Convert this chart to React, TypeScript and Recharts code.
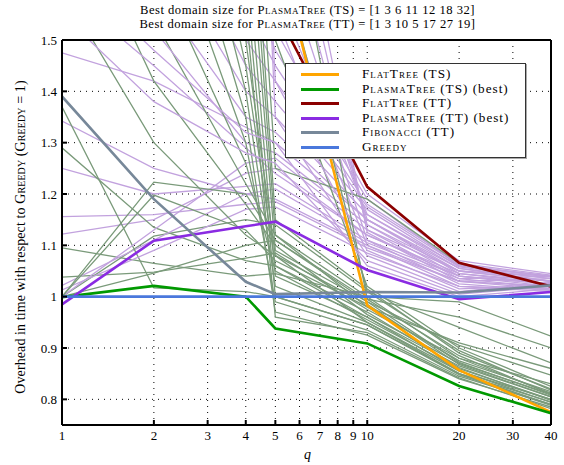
import React from 'react';
import {
  LineChart, Line, XAxis, YAxis, CartesianGrid,
} from 'recharts';

// q values where every run was measured
const Q = [1, 2, 4, 5, 10, 20, 40];
const X_TICKS = [1, 2, 3, 4, 5, 6, 7, 8, 9, 10, 20, 30, 40];
const Y_TICKS = [0.8, 0.9, 1.0, 1.1, 1.2, 1.3, 1.4, 1.5];

// highlighted series (values above 1.5 run off the top of the plot)
const flatTS = [3.4, 2.7, 1.95, 1.7, 0.983, 0.857, 0.775];
const plasmaTSBest = [0.999, 1.021, 1.0, 0.938, 0.909, 0.826, 0.773];
const flatTT = [3.0, 2.3, 1.7, 1.56, 1.214, 1.066, 1.02];
const plasmaTTBest = [0.985, 1.109, 1.137, 1.146, 1.052, 0.995, 1.009];
const fibTT = [1.39, 1.19, 1.029, 1.005, 1.009, 1.008, 1.022];
const greedy = [1, 1, 1, 1, 1, 1, 1];

// PlasmaTree (TS), one run per domain size
const plasmaTSRuns = [
  [1.000, 1.046, 1.100, 1.110, 0.990, 0.905, 0.847],
  [1.038, 1.048, 1.075, 1.085, 0.975, 0.880, 0.830],
  [1.095, 1.065, 1.040, 1.045, 1.000, 0.990, 0.923],
  [1.000, 1.118, 1.150, 1.140, 1.010, 0.940, 0.871],
  [1.290, 1.135, 1.070, 1.060, 0.960, 0.865, 0.805],
  [1.370, 1.017, 1.010, 1.000, 0.945, 0.850, 0.795],
  [1.600, 1.300, 1.120, 1.080, 0.950, 0.855, 0.800],
  [1.800, 1.420, 1.180, 1.100, 0.965, 0.870, 0.810],
  [2.000, 1.540, 1.220, 1.120, 0.980, 0.875, 0.815],
  [2.200, 1.650, 1.260, 1.050, 0.955, 0.860, 0.800],
  [2.400, 1.800, 1.300, 0.990, 0.935, 0.845, 0.790],
  [2.600, 1.950, 1.350, 0.970, 0.925, 0.840, 0.785],
  [2.800, 2.100, 1.400, 1.020, 0.950, 0.850, 0.790],
  [3.000, 2.250, 1.450, 1.060, 0.970, 0.862, 0.798],
  [3.200, 2.400, 1.500, 1.080, 0.985, 0.868, 0.805],
  [3.400, 2.550, 1.560, 0.960, 0.930, 0.842, 0.782],
  [3.600, 2.700, 1.620, 1.000, 0.945, 0.848, 0.788],
  [3.800, 2.850, 1.700, 1.040, 0.960, 0.856, 0.794],
  [4.000, 3.000, 1.800, 1.090, 0.990, 0.872, 0.808],
  [4.200, 3.200, 1.900, 1.120, 1.000, 0.880, 0.812],
  [4.400, 3.400, 2.000, 1.150, 1.015, 0.890, 0.820],
  [4.600, 3.600, 2.100, 1.250, 1.190, 1.065, 1.020],
  [4.800, 3.800, 2.200, 1.500, 1.020, 0.900, 0.825],
  [5.000, 4.000, 2.300, 1.700, 1.010, 0.895, 0.818],
  [5.200, 4.200, 2.400, 1.900, 0.995, 0.885, 0.810],
  [1.000, 1.223, 1.200, 1.110, 0.995, 0.960, 0.900],
  [1.000, 1.198, 1.130, 1.070, 0.980, 0.910, 0.860],
];

// PlasmaTree (TT), one run per domain size
const plasmaTTRuns = [
  [1.475, 1.420, 1.330, 1.300, 1.150, 1.050, 1.030],
  [1.342, 1.250, 1.200, 1.190, 1.100, 1.030, 1.020],
  [1.250, 1.200, 1.215, 1.220, 1.110, 1.040, 1.025],
  [1.156, 1.160, 1.180, 1.185, 1.095, 1.030, 1.035],
  [1.122, 1.150, 1.240, 1.250, 1.120, 1.045, 1.030],
  [1.022, 1.110, 1.200, 1.210, 1.105, 1.035, 1.040],
  [1.013, 1.090, 1.170, 1.175, 1.085, 1.020, 1.015],
  [1.000, 1.130, 1.260, 1.270, 1.130, 1.050, 1.040],
  [1.600, 1.450, 1.290, 1.240, 1.120, 1.040, 1.025],
  [1.750, 1.520, 1.300, 1.280, 1.140, 1.050, 1.030],
  [1.900, 1.600, 1.350, 1.320, 1.150, 1.055, 1.035],
  [2.050, 1.700, 1.400, 1.350, 1.160, 1.060, 1.040],
  [2.200, 1.800, 1.450, 1.380, 1.170, 1.058, 1.035],
  [2.400, 1.900, 1.500, 1.420, 1.175, 1.062, 1.040],
  [2.600, 2.000, 1.560, 1.450, 1.180, 1.065, 1.042],
  [2.800, 2.150, 1.620, 1.480, 1.190, 1.060, 1.038],
  [3.000, 2.300, 1.700, 1.520, 1.200, 1.070, 1.045],
  [3.200, 2.450, 1.800, 1.600, 1.160, 1.055, 1.030],
  [3.400, 2.600, 1.900, 1.700, 1.150, 1.045, 1.025],
  [3.600, 2.800, 2.000, 1.800, 1.140, 1.040, 1.020],
  [3.800, 3.000, 2.100, 1.900, 1.130, 1.035, 1.018],
  [4.000, 3.200, 2.200, 2.000, 1.125, 1.030, 1.015],
  [4.200, 3.400, 2.300, 1.650, 1.110, 1.025, 1.012],
  [4.400, 3.600, 2.400, 1.550, 1.100, 1.020, 1.010],
  [4.600, 3.800, 2.500, 1.420, 1.090, 1.015, 1.022],
  [4.800, 4.000, 2.600, 1.350, 1.080, 1.010, 1.028],
  [1.550, 1.380, 1.280, 1.260, 1.070, 1.005, 1.020],
  [1.650, 1.480, 1.320, 1.300, 1.060, 1.000, 1.015],
];

const TS_THIN = '#7a9a7a';
const TT_THIN = '#c2a2de';

const MAIN = [
  { key: 'flatTS', values: flatTS, color: '#ffa500', name: 'FlatTree', tag: ' (TS)' },
  { key: 'plasmaTSBest', values: plasmaTSBest, color: '#009900', name: 'PlasmaTree', tag: ' (TS) (best)' },
  { key: 'flatTT', values: flatTT, color: '#8b0000', name: 'FlatTree', tag: ' (TT)' },
  { key: 'plasmaTTBest', values: plasmaTTBest, color: '#8a2be2', name: 'PlasmaTree', tag: ' (TT) (best)' },
  { key: 'fibTT', values: fibTT, color: '#778899', name: 'Fibonacci', tag: ' (TT)' },
  { key: 'greedy', values: greedy, color: '#4a78dc', name: 'Greedy', tag: '' },
];

const data = Q.map((q, i) => {
  const row: Record<string, number> = { q };
  MAIN.forEach(s => { row[s.key] = s.values[i]; });
  plasmaTSRuns.forEach((r, k) => { row[`ts${k}`] = r[i]; });
  plasmaTTRuns.forEach((r, k) => { row[`tt${k}`] = r[i]; });
  return row;
});

const FONT = "'Liberation Serif', 'Times New Roman', Times, 'DejaVu Serif', serif";
const sc: React.CSSProperties = { fontVariant: 'small-caps' };

export default function App() {
  const nThin = Math.max(plasmaTSRuns.length, plasmaTTRuns.length);
  const thin: React.ReactNode[] = [];
  for (let k = 0; k < nThin; k++) {
    if (k < plasmaTTRuns.length)
      thin.push(<Line key={`tt${k}`} dataKey={`tt${k}`} type="linear" stroke={TT_THIN} strokeWidth={1.3} dot={false} activeDot={false} isAnimationActive={false} />);
    if (k < plasmaTSRuns.length)
      thin.push(<Line key={`ts${k}`} dataKey={`ts${k}`} type="linear" stroke={TS_THIN} strokeWidth={1.3} dot={false} activeDot={false} isAnimationActive={false} />);
  }

  const tickStyle = { fill: '#000', fontSize: 13, fontFamily: FONT };

  return (
    <div style={{ position: 'absolute', left: 0, top: 0, width: 564, height: 465, background: '#fff', fontFamily: FONT, color: '#000' }}>
      <LineChart width={564} height={465} data={data} margin={{ top: 0, right: 0, bottom: 0, left: 0 }} style={{ fontFamily: FONT }}>
        <CartesianGrid stroke="#000" strokeDasharray="1 5" />
        <XAxis
          dataKey="q" type="number" scale="log" domain={[1, 40]} ticks={X_TICKS} interval={0}
          allowDataOverflow height={40} tickSize={-5} tickMargin={11}
          tick={tickStyle} stroke="#000" strokeWidth={2}
        />
        <XAxis
          xAxisId="top" orientation="top" dataKey="q" type="number" scale="log" domain={[1, 40]}
          ticks={X_TICKS} interval={0} height={40} tickSize={-5} tick={false} stroke="#000" strokeWidth={2}
        />
        <YAxis
          type="number" domain={[0.75, 1.5]} ticks={Y_TICKS} allowDataOverflow width={62}
          tickSize={-5} tickMargin={10} tick={tickStyle} stroke="#000" strokeWidth={2}
          tickFormatter={(v: number) => (v === 1 ? '1' : v.toFixed(1))}
        />
        <YAxis
          yAxisId="right" orientation="right" type="number" domain={[0.75, 1.5]} ticks={Y_TICKS}
          width={13} tickSize={-5} tick={false} stroke="#000" strokeWidth={2}
        />
        {thin}
        {MAIN.map(s => (
          <Line key={s.key} dataKey={s.key} type="linear" stroke={s.color} strokeWidth={2.6} dot={false} activeDot={false} isAnimationActive={false} />
        ))}
      </LineChart>

      {/* title */}
      <div style={{ position: 'absolute', left: 0, width: 615, top: 3, textAlign: 'center', fontSize: 12.6, lineHeight: '14px', letterSpacing: 0.5 }}>
        <div>Best domain size for <span style={sc}>PlasmaTree</span> (TS) = [1 3 6 11 12 18 32]</div>
        <div>Best domain size for <span style={sc}>PlasmaTree</span> (TT) = [1 3 10 5 17 27 19]</div>
      </div>

      {/* y label */}
      <div style={{ position: 'absolute', left: 21, top: 237, width: 0, height: 0 }}>
        <div style={{ position: 'absolute', left: 0, top: 0, transform: 'translate(-50%, -50%) rotate(-90deg)', whiteSpace: 'nowrap', fontSize: 14, letterSpacing: 0.1 }}>
          Overhead in time with respect to <span style={sc}>Greedy</span> (<span style={sc}>Greedy</span> = 1)
        </div>
      </div>

      {/* x label */}
      <div style={{ position: 'absolute', left: 304, top: 447, fontSize: 14, fontStyle: 'italic' }}>q</div>

      {/* legend */}
      <div style={{ position: 'absolute', left: 285, top: 63, width: 239, height: 93, background: '#fff', border: '1px solid #333', boxShadow: '1px 1px 0 #aaa' }}>
        {MAIN.map((s, i) => (
          <div key={s.key} style={{ position: 'absolute', left: 0, top: 3 + i * 14.6, height: 14.6, width: 239 }}>
            <div style={{ position: 'absolute', left: 15, top: 6, width: 38, height: 3, background: s.color }} />
            <div style={{ position: 'absolute', left: 76, top: 0, fontSize: 13.2, lineHeight: '14.6px', letterSpacing: 1.0, whiteSpace: 'nowrap' }}>
              <span style={sc}>{s.name}</span>{s.tag}
            </div>
          </div>
        ))}
      </div>
    </div>
  );
}
